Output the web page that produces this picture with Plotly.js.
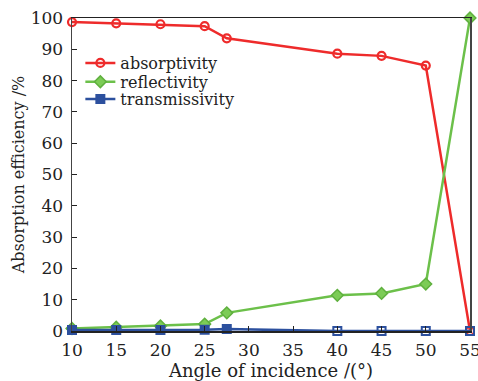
<!DOCTYPE html>
<html>
<head>
<meta charset="utf-8">
<script src="https://cdn.plot.ly/plotly-3.0.1.min.js"></script>
<style>html,body{margin:0;padding:0;background:#fff;}#chart{width:478px;height:381px;}</style>
</head>
<body>
<div id="chart"></div>
<script>
var angles = [10, 15, 20, 25, 27.5, 40, 45, 50, 55];
var absorptivity = [98.7, 98.3, 98.0, 97.4, 93.5, 88.6, 87.9, 84.8, 0];
var reflectivity = [0.8, 1.2, 1.6, 2.2, 5.8, 11.4, 12.0, 15.0, 100];
var transmissivity = [0.3, 0.3, 0.3, 0.4, 0.6, 0, 0, 0, 0];
var xTicks = [10, 15, 20, 25, 30, 35, 40, 45, 50, 55];
var yTicks = [0, 10, 20, 30, 40, 50, 60, 70, 80, 90, 100];

var serif = 'DejaVu Serif';
var txt = '#222';
var traces = [
  {x: angles, y: absorptivity, name: 'absorptivity', legend: 'legend', mode: 'lines+markers', cliponaxis: false,
   line: {color: '#ee2b2b', width: 2.5},
   marker: {symbol: 'circle-open', size: 8, color: '#ee2b2b', line: {width: 2.2, color: '#ee2b2b'}}},
  {x: angles, y: reflectivity, name: 'reflectivity', legend: 'legend2', mode: 'lines+markers', cliponaxis: false,
   line: {color: '#6cc04a', width: 2.5},
   marker: {symbol: 'diamond', size: 9, color: '#7ccc56', line: {width: 1.5, color: '#5fb03e'}}},
  {x: angles, y: transmissivity, name: 'transmissivity', legend: 'legend3', mode: 'lines+markers', cliponaxis: false,
   line: {color: '#2c509e', width: 2.5},
   marker: {symbol: ['square', 'square', 'square', 'square', 'square', 'square-open', 'square-open', 'square-open', 'square-open'],
            size: 8, color: '#2c509e', line: {width: 2, color: '#2c509e'}}}
];

function leg(y) {
  return {x: 0.021, y: y, xanchor: 'left', yanchor: 'middle', bgcolor: 'rgba(0,0,0,0)',
          font: {family: serif, size: 16, color: txt}};
}

var layout = {
  width: 478, height: 381,
  margin: {l: 72, r: 8, t: 18, b: 50},
  paper_bgcolor: '#fff', plot_bgcolor: '#fff',
  font: {family: serif, color: txt, size: 17},
  showlegend: true,
  legend: leg(0.856),
  legend2: leg(0.796),
  legend3: leg(0.741),
  xaxis: {range: [10, 55], tickvals: xTicks, ticktext: xTicks.map(String),
          ticks: 'inside', ticklen: 5, tickcolor: txt, showgrid: false, zeroline: false,
          showline: true, linecolor: '#222', linewidth: 1.5, mirror: true,
          ticklabeloverflow: 'allow', ticklabelstandoff: 3,
          tickfont: {family: serif, size: 17, color: txt},
          title: {text: 'Angle of incidence /(°)', font: {family: serif, size: 18, color: txt}, standoff: 0}},
  yaxis: {range: [0, 100], tickvals: yTicks, ticktext: yTicks.map(String),
          ticks: 'inside', ticklen: 5, tickcolor: txt, showgrid: false, zeroline: false,
          showline: true, linecolor: '#444', linewidth: 1.5, mirror: true,
          ticklabeloverflow: 'allow', ticklabelstandoff: 4,
          tickfont: {family: serif, size: 17, color: txt},
          title: {text: 'Absorption efficiency /%', font: {family: serif, size: 16, color: txt}, standoff: 2}}
};
Plotly.newPlot('chart', traces, layout, {displayModeBar: false, staticPlot: true});
</script>
</body>
</html>
